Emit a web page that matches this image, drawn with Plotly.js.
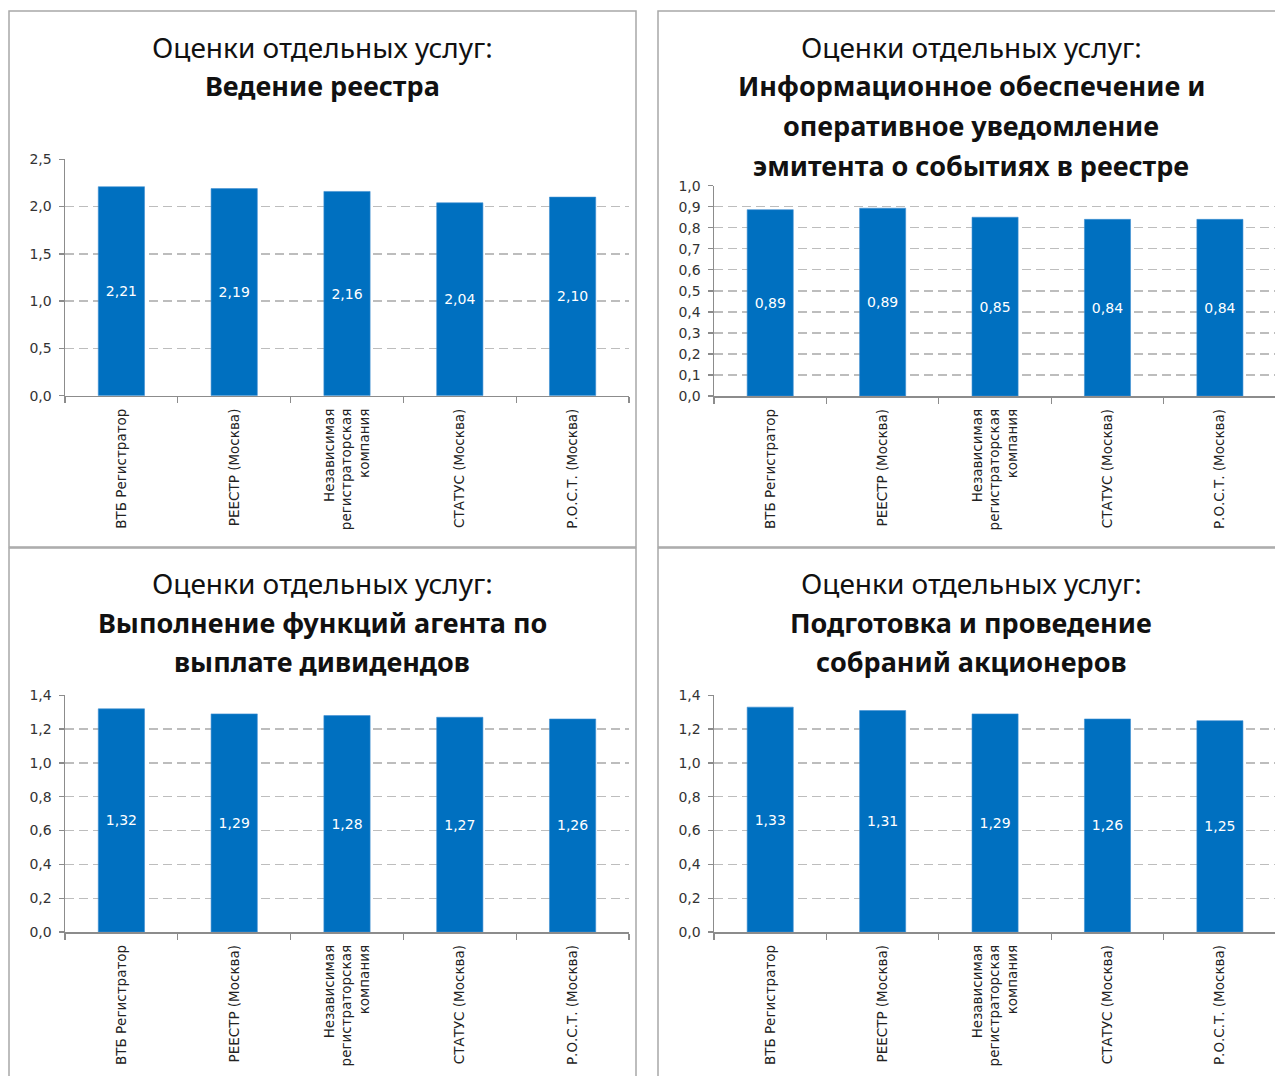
<!DOCTYPE html>
<html>
<head>
<meta charset="utf-8">
<script src="https://cdn.plot.ly/plotly-3.0.1.min.js"></script>
<style>html,body{margin:0;padding:0;background:#fff;}#chart{width:1275px;height:1076px;}</style>
</head>
<body>
<div id="chart"></div>
<script>
// ---- data ----
const categories = ["ВТБ Регистратор", "РЕЕСТР (Москва)", "Независимая<br>регистраторская<br>компания", "СТАТУС (Москва)", "Р.О.С.Т. (Москва)"];
const titleLine1 = "Оценки отдельных услуг:";
const titleRegistry = ["Ведение реестра"];
const titleInfo = ["Информационное обеспечение и", "оперативное уведомление", "эмитента о событиях в реестре"];
const titleDividends = ["Выполнение функций агента по", "выплате дивидендов"];
const titleMeetings = ["Подготовка и проведение", "собраний акционеров"];
const valuesRegistry = [2.21, 2.19, 2.16, 2.04, 2.10];
const valuesInfo = [0.886, 0.893, 0.85, 0.84, 0.84];
const valuesDividends = [1.32, 1.29, 1.28, 1.27, 1.26];
const valuesMeetings = [1.33, 1.31, 1.29, 1.26, 1.25];

// ---- layout helpers (pixel -> paper) ----
const W = 1275, H = 1076;
const px = v => v / W;
const py = v => 1 - v / H;

const barColor = '#0070C0';
const axisColor = '#8c8c8c';
const gridColor = '#bdbdbd';
const tickFont = {family: 'DejaVu Sans', size: 14, color: '#333333'};
const catFont = {family: 'DejaVu Sans', size: 13.5, color: '#222222'};

function barTrace(vals, xa, ya) {
  return {
    type: 'bar', x: categories, y: vals, xaxis: xa, yaxis: ya,
    width: 0.41,
    marker: {color: barColor, line: {color: '#3f8fd2', width: 0.6}},
    texttemplate: '%{y:.2f}', textposition: 'inside', insidetextanchor: 'middle',
    textangle: 0, textfont: {family: 'DejaVu Sans', size: 14, color: '#ffffff'},
    hoverinfo: 'x+y', showlegend: false
  };
}

function xAxis(domain, range, anchor) {
  return {
    domain: domain, range: range, anchor: anchor, type: 'category',
    showline: true, linecolor: axisColor, linewidth: 1.5,
    ticks: 'outside', ticklen: 6, tickcolor: axisColor, tickwidth: 1.3,
    tickson: 'boundaries', tickangle: -90, tickfont: catFont,
    ticklabelstandoff: 6,
    showgrid: false, zeroline: false, fixedrange: true
  };
}
function yAxis(domain, range, dtick, anchor) {
  return {
    domain: domain, range: range, dtick: dtick, anchor: anchor,
    tickformat: '.1f', showline: true, linecolor: axisColor, linewidth: 1.5,
    ticks: 'outside', ticklen: 5, tickcolor: axisColor, tickwidth: 1.3,
    ticklabelstandoff: 4,
    showgrid: true, gridcolor: gridColor, gridwidth: 1.3, griddash: '9px,5px',
    zeroline: false, tickfont: tickFont, fixedrange: true
  };
}

const data = [
  barTrace(valuesRegistry, 'x', 'y'),
  barTrace(valuesInfo, 'x2', 'y2'),
  barTrace(valuesDividends, 'x3', 'y3'),
  barTrace(valuesMeetings, 'x4', 'y4')
];

const leftX = [px(65), px(629)];
const rightX = [px(714), 1];
const rangeL = [-0.5, 4.5];
const rangeR = [-0.5, 4.49];

const annotations = [];
function addTitle(cx, yStart, lines) {
  annotations.push({xref: 'paper', yref: 'paper', x: px(cx), y: py(yStart), xanchor: 'center', yanchor: 'middle',
    text: titleLine1, showarrow: false, font: {family: 'Noto Sans', size: 28, color: '#111111'}});
  lines.forEach((t, i) => {
    annotations.push({xref: 'paper', yref: 'paper', x: px(cx), y: py(yStart + 39 * (i + 1) + 0.5 * i), xanchor: 'center', yanchor: 'middle',
      text: '<b>' + t + '</b>', showarrow: false, font: {family: 'Noto Sans', size: 27, color: '#111111'}});
  });
}
addTitle(322, 47, titleRegistry);
addTitle(971, 47, titleInfo);
addTitle(322, 583, titleDividends);
addTitle(971, 583, titleMeetings);

const borderLine = {color: '#a8a8a8', width: 1.5};
const shapes = [
  {type: 'rect', xref: 'paper', yref: 'paper', x0: px(9), x1: px(636), y0: py(547), y1: py(11), line: borderLine},
  {type: 'rect', xref: 'paper', yref: 'paper', x0: px(658), x1: px(1290), y0: py(547), y1: py(11), line: borderLine},
  {type: 'rect', xref: 'paper', yref: 'paper', x0: px(9), x1: px(636), y0: py(1090), y1: py(548), line: borderLine},
  {type: 'rect', xref: 'paper', yref: 'paper', x0: px(658), x1: px(1290), y0: py(1090), y1: py(548), line: borderLine}
];

const layout = {
  width: W, height: H,
  margin: {l: 0, r: 0, t: 0, b: 0},
  paper_bgcolor: '#ffffff', plot_bgcolor: '#ffffff',
  separators: ', ',
  bargap: 0.59,
  showlegend: false,
  xaxis: xAxis(leftX, rangeL, 'y'),
  yaxis: yAxis([py(395.7), py(159.3)], [0, 2.5], 0.5, 'x'),
  xaxis2: xAxis(rightX, rangeR, 'y2'),
  yaxis2: yAxis([py(396), py(185.7)], [0, 1.0], 0.1, 'x2'),
  xaxis3: xAxis(leftX, rangeL, 'y3'),
  yaxis3: yAxis([py(932), py(695.3)], [0, 1.4], 0.2, 'x3'),
  xaxis4: xAxis(rightX, rangeR, 'y4'),
  yaxis4: yAxis([py(932), py(695.3)], [0, 1.4], 0.2, 'x4'),
  annotations: annotations,
  shapes: shapes
};

Plotly.newPlot('chart', data, layout, {displayModeBar: false, staticPlot: true});
</script>
</body>
</html>
